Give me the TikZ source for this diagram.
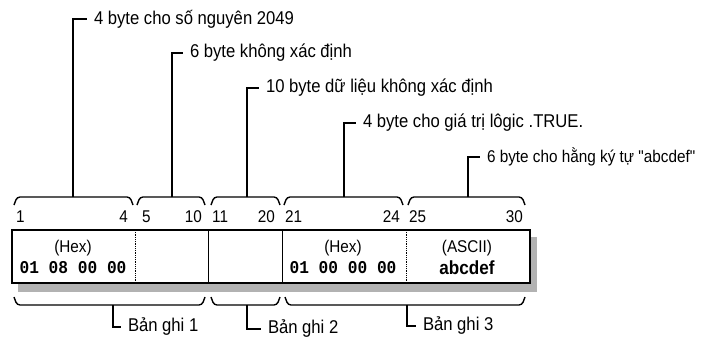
\documentclass[tikz,border=0pt]{standalone}
\usepackage{fontspec}
\setmainfont[FakeStretch=0.9,Ligatures=TeXOff]{Liberation Sans}
\newfontfamily\hexfont[FakeStretch=0.9]{Liberation Mono}
\usetikzlibrary{positioning}
\tikzset{
  lbl/.style={font=\fontsize{18.5}{20}\selectfont, inner sep=1pt, outer xsep=6pt, anchor=west},
  num/.style={font=\fontsize{17}{19}\selectfont, inner sep=0pt},
  cell/.style={font=\fontsize{17}{19}\selectfont, inner sep=0pt},
  hexval/.style={font=\hexfont\bfseries\fontsize{18}{20}\selectfont, inner sep=0pt},
  brace/.style={line width=1.4pt, rounded corners=3pt},
  tick/.style={line width=2pt}
}
\begin{document}
\begin{tikzpicture}[x=1pt,y=-1pt]
    \useasboundingbox (0,0) rectangle (707,341);

    % Record box
    \fill[gray!60] (18,237) rectangle (537,292);
    \draw[fill=white,line width=1.5pt] (12,230) rectangle (530,283);
    \draw[densely dotted,thick] (135,230) -- (135,283);
    \draw[thick] (208,230) -- (208,283);
    \draw[thick] (282,230) -- (282,283);
    \draw[densely dotted,thick] (406,230) -- (406,283);

    % Cell contents
    \node[cell] (h1) at (73,248) {(Hex)};
    \node[hexval] (v1) at (73,268) {01 08 00 00};
    \node[cell] (h4) at (343,248) {(Hex)};
    \node[hexval] (v4) at (343,268) {01 00 00 00};
    \node[cell] (h5) at (467,248) {(ASCII)};
    \node[cell,font=\bfseries\fontsize{19}{21}\selectfont] (v5) at (467,268) {abcdef};

    % Byte numbers
    \node[num,anchor=west] (n1) at (16,217) {1};
    \node[num,anchor=east] (n4) at (128,217) {4};
    \node[num,anchor=west] (n5) at (142,217) {5};
    \node[num,anchor=east] (n10) at (202,217) {10};
    \node[num,anchor=west] (n11) at (212,217) {11};
    \node[num,anchor=east] (n20) at (275,217) {20};
    \node[num,anchor=west] (n21) at (285,217) {21};
    \node[num,anchor=east] (n24) at (400,217) {24};
    \node[num,anchor=west] (n25) at (409,217) {25};
    \node[num,anchor=east] (n30) at (523,217) {30};

    % Upper braces
    \draw[brace] (14,205) -- (17,197) -- (130,197) -- (133,205);
    \draw[brace] (137,205) -- (140,197) -- (202,197) -- (205,205);
    \draw[brace] (211,205) -- (214,197) -- (277,197) -- (280,205);
    \draw[brace] (284,205) -- (287,197) -- (400,197) -- (403,205);
    \draw[brace] (408,205) -- (411,197) -- (522,197) -- (525,205);
    \coordinate (b1) at (73,197);
    \coordinate (b2) at (172,197);
    \coordinate (b3) at (247,197);
    \coordinate (b4) at (344,197);
    \coordinate (b5) at (468,197);

    % Upper labels
    \node[lbl] (l1) at (87,19) {4 byte cho số nguyên 2049};
    \node[lbl] (l2) at (183,53) {6 byte không xác định};
    \node[lbl] (l3) at (259,88) {10 byte dữ liệu không xác định};
    \node[lbl] (l4) at (356,123) {4 byte cho giá trị lôgic .TRUE.};
    \node[lbl,font=\fontsize{17}{19}\selectfont] (l5) at (480,157) {6 byte cho hằng ký tự "abcdef"};
    \draw[tick] (b1) |- (l1.west);
    \draw[tick] (b2) |- (l2.west);
    \draw[tick] (b3) |- (l3.west);
    \draw[tick] (b4) |- (l4.west);
    \draw[tick] (b5) |- (l5.west);

    % Lower braces
    \draw[brace] (14,297) -- (17,305) -- (202,305) -- (205,297);
    \draw[brace] (211,297) -- (214,305) -- (277,305) -- (280,297);
    \draw[brace] (285,297) -- (288,305) -- (522,305) -- (525,297);
    \coordinate (r1) at (113,305);
    \coordinate (r2) at (247,305);
    \coordinate (r3) at (407,305);

    % Record labels
    \node[lbl] (g1) at (121,327) {Bản ghi 1};
    \node[lbl] (g2) at (261,329) {Bản ghi 2};
    \node[lbl] (g3) at (416,326) {Bản ghi 3};
    \draw[tick] (r1) |- (g1.west);
    \draw[tick] (r2) |- (g2.west);
    \draw[tick] (r3) |- (g3.west);

  \end{tikzpicture}
\end{document}
